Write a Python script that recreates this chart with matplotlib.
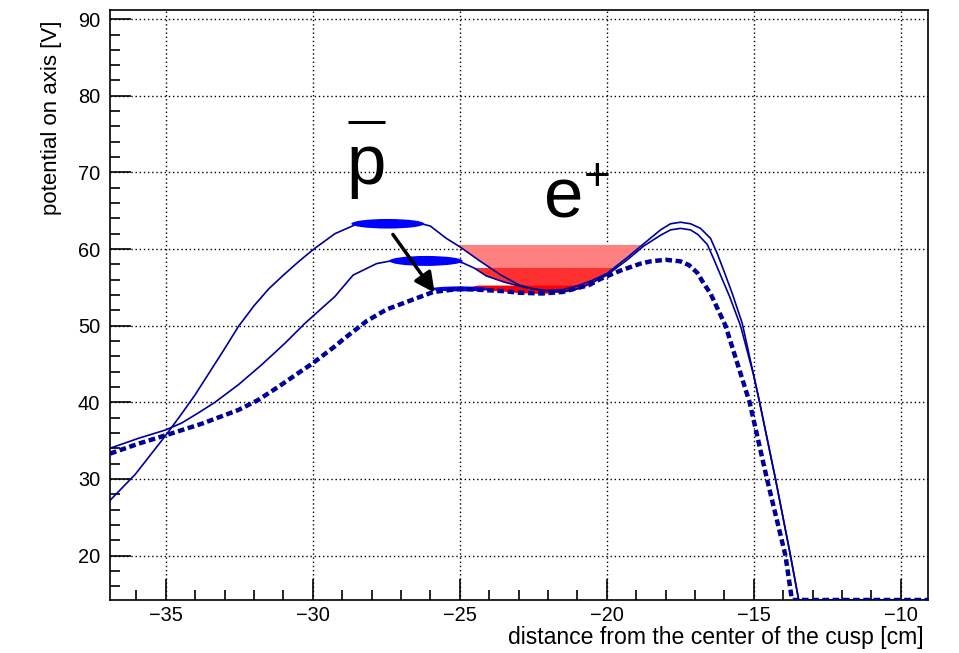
import numpy as np
import matplotlib.pyplot as plt
from matplotlib.patches import Ellipse
from matplotlib.ticker import MultipleLocator

plt.rcParams['font.family'] = ['Liberation Sans', 'DejaVu Sans']

# potential curves (x in cm, V in volts)
x_a = np.array([-36.9, -36.04, -35.0, -34.5, -34.0, -33.5, -33.0, -32.53, -32.0, -31.5,
                -31.0, -30.5, -30.0, -29.25, -28.6, -27.5, -26.5, -26.0, -25.46, -25.0,
                -24.3, -23.6, -22.97, -22.5, -22.06, -21.5, -21.0, -20.5, -20.0, -19.3,
                -18.74, -18.17, -17.83, -17.49, -17.15, -16.81, -16.47, -16.24, -16.02, -15.73,
                -15.39, -14.8, -14.26, -13.75, -13.47, -9.0])
v_a = np.array([27.2, 30.6, 35.7, 38.3, 41.0, 44.0, 47.0, 49.9, 52.6, 54.8,
                56.6, 58.3, 59.9, 62.0, 63.1, 63.6, 63.5, 63.0, 61.4, 60.3,
                58.4, 56.6, 55.3, 54.8, 54.6, 54.7, 55.2, 55.9, 56.8, 58.9,
                60.7, 62.5, 63.3, 63.5, 63.3, 62.7, 61.4, 59.4, 57.2, 54.2,
                50.3, 40.0, 30.0, 20.0, 14.2, 14.2])

x_b = np.array([-36.9, -35.93, -35.0, -34.46, -33.9, -33.33, -32.53, -31.74, -30.95, -30.27,
                -29.25, -28.63, -27.83, -27.0, -26.2, -25.4, -24.9, -24.5, -24.1, -23.5,
                -22.8, -22.2, -21.5, -21.0, -20.5, -20.0, -19.3, -18.74, -18.17, -17.83,
                -17.49, -17.15, -16.9, -16.58, -16.36, -16.13, -15.82, -15.45, -15.0, -14.8,
                -14.26, -13.75, -13.47, -9.0])
v_b = np.array([34.0, 35.3, 36.4, 37.3, 38.6, 40.0, 42.3, 44.9, 47.7, 50.3,
                53.8, 56.6, 58.1, 58.7, 58.8, 58.6, 58.2, 57.5, 56.5, 55.7,
                55.0, 54.6, 54.4, 54.8, 55.6, 56.6, 58.6, 60.4, 61.8, 62.5,
                62.7, 62.5, 61.9, 60.6, 58.7, 56.6, 53.8, 50.0, 43.5, 40.0,
                30.0, 20.0, 14.2, 14.2])

x_c = np.array([-36.9, -35.93, -35.0, -33.78, -32.53, -31.86, -31.18, -30.5, -30.0, -29.25,
                -28.97, -28.17, -27.5, -26.6, -25.9, -25.0, -24.4, -23.5, -22.97, -22.2,
                -21.5, -20.6, -20.21, -19.53, -18.85, -18.5, -18.0, -17.5, -17.2, -16.92,
                -16.7, -16.47, -15.96, -15.14, -14.55, -13.92, -13.7, -9.0])
v_c = np.array([33.3, 34.6, 35.7, 37.2, 39.0, 40.3, 42.0, 43.8, 45.1, 47.3,
                48.2, 50.6, 52.1, 53.4, 54.4, 54.8, 54.7, 54.5, 54.3, 54.2,
                54.4, 55.3, 56.1, 57.2, 58.1, 58.4, 58.6, 58.4, 57.9, 56.9,
                55.5, 54.2, 50.0, 40.0, 30.0, 20.0, 14.2, 14.2])

# positron fill levels (V) and x windows of the wells
fill_levels = [60.6, 57.6, 55.3]
fill_windows = [(-26.0, -18.0), (-25.0, -19.0), (-24.4, -19.0)]
fill_colors = ['#ff8080', '#ff3030', '#ff0000']

# antiproton clouds: centre x, centre V, width, height
clouds_x = [-27.45, -26.15, -25.0]
clouds_v = [63.3, 58.45, 54.8]
clouds_w = [2.48, 2.5, 2.0]
clouds_h = [1.25, 1.3, 0.65]

fig = plt.figure(figsize=(9.59, 6.53), dpi=100)
ax = fig.add_axes([0.1147, 0.0812, 0.853, 0.9035])

curves = [(x_a, v_a), (x_b, v_b), (x_c, v_c)]
for (xx, vv), lev, (lo, hi), col in zip(curves, fill_levels, fill_windows, fill_colors):
    mask = (vv < lev) & (xx >= lo) & (xx <= hi)
    ax.fill_between(xx, vv, lev, where=mask, interpolate=True, color=col, lw=0, zorder=1)

ax.plot(x_a, v_a, color='#000099', lw=1.2, zorder=2)
ax.plot(x_b, v_b, color='#000099', lw=1.2, zorder=2)

for cx, cv, w, h in zip(clouds_x, clouds_v, clouds_w, clouds_h):
    ax.add_patch(Ellipse((cx, cv), w, h, color='#0000ff', lw=0, zorder=3))

ax.plot(x_c, v_c, color='#000099', lw=3.2, linestyle=(0, (1.5, 0.8)), zorder=4)

ax.annotate('', xy=(-25.8, 54.0), xytext=(-27.33, 62.2),
            arrowprops=dict(arrowstyle='-|>', color='black', lw=2.5, mutation_scale=30),
            zorder=5)

ax.text(-28.2, 68.55, 'p', fontsize=51, ha='center', va='baseline', zorder=5)
ax.plot([-28.8, -27.55], [76.55, 76.55], color='black', lw=2.2, zorder=5, solid_capstyle='butt')
ax.text(-21.48, 64.15, 'e', fontsize=51, ha='center', va='baseline', zorder=5)
ax.text(-20.34, 67.7, '+', fontsize=33, ha='center', va='baseline', zorder=5)

ax.set_xlim(-36.9, -9.07)
ax.set_ylim(14.2, 91.2)

ax.xaxis.set_major_locator(MultipleLocator(5))
ax.xaxis.set_minor_locator(MultipleLocator(1))
ax.yaxis.set_major_locator(MultipleLocator(10))
ax.yaxis.set_minor_locator(MultipleLocator(2))
ax.tick_params(which='both', direction='in', top=False, right=False, labelsize=14.4, width=1.2)
ax.tick_params(axis='x', which='both', pad=4.5)
ax.tick_params(axis='y', which='both', pad=7)
ax.tick_params(which='major', length=15)
ax.tick_params(which='minor', length=7.5)
for s in ax.spines.values():
    s.set_linewidth(1.2)

ax.grid(True, which='major', color='black', linestyle=(0, (1, 2)), lw=1.0)
ax.set_axisbelow(True)

ax.set_xlabel('distance from the center of the cusp [cm]', fontsize=16.6, loc='right')
ax.xaxis.set_label_coords(0.9943, -0.075)
ax.xaxis.label.set_va('baseline')
ax.set_ylabel('potential on axis [V]', fontsize=16, loc='top')
ax.yaxis.set_label_coords(-0.0587, 0.983)

fig.savefig('out.png', dpi=100)
